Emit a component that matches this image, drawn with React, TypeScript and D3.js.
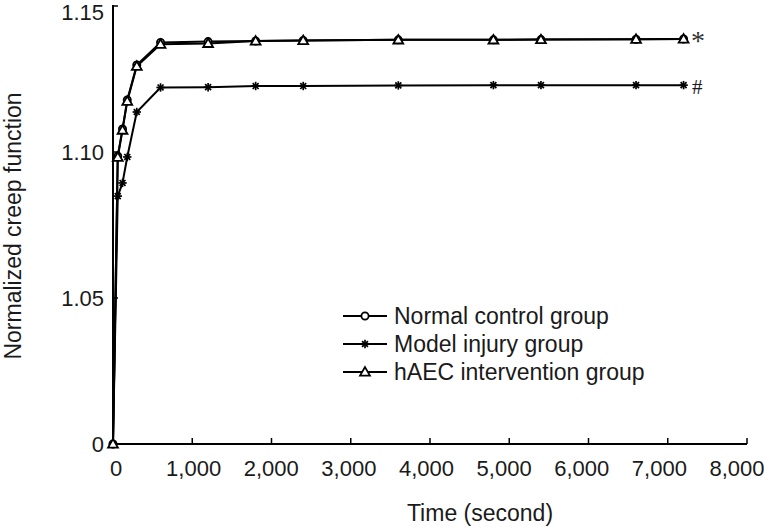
import React from "react";
import * as d3 from "d3";

const times = [0, 60, 120, 180, 300, 600, 1200, 1800, 2400, 3600, 4800, 5400, 6600, 7200];
const normalControl = [1.0, 1.0986, 1.1079, 1.1178, 1.1298, 1.1375, 1.1378, 1.138, 1.1382, 1.1384, 1.1384, 1.1385, 1.1386, 1.1387];
const modelInjury = [1.0, 1.0849, 1.0894, 1.0983, 1.1137, 1.1221, 1.1222, 1.1226, 1.1226, 1.1228, 1.1229, 1.1229, 1.1229, 1.1229];
const hAEC = [1.0, 1.0982, 1.1075, 1.1174, 1.1294, 1.1369, 1.1372, 1.138, 1.1382, 1.1384, 1.1384, 1.1385, 1.1386, 1.1387];

const seriesNames = ["Normal control group", "Model injury group", "hAEC intervention group"];
const seriesMarkers = ["circle", "star", "triangle"];
const seriesValues = [normalControl, modelInjury, hAEC];

const xTicks = [0, 1000, 2000, 3000, 4000, 5000, 6000, 7000, 8000];
const yTickValues = [1.0, 1.05, 1.1, 1.15];
const yTickLabels = ["0", "1.05", "1.10", "1.15"];
const endMarks = ["*", "#"];

const W = 764;
const H = 527;
const FONT = "'Liberation Sans', Arial, sans-serif";
const INK = "#1a1a1a";

const x = d3.scaleLinear().domain([0, 8000]).range([113, 747]);
const xLabel = d3.scaleLinear().domain([0, 8000]).range([116, 737]);
const y = d3.scaleLinear().domain([1.0, 1.15]).range([444, 6]);
const fmt = d3.format(",");

function Marker({ kind, cx, cy }: { kind: string; cx: number; cy: number }) {
  if (kind === "circle") {
    return <circle cx={cx} cy={cy} r={3.6} fill="#fff" stroke="#000" strokeWidth={1.8} />;
  }
  if (kind === "star") {
    const r = 4.2;
    const angles = [0, 45, 90, 135];
    return (
      <g transform={`translate(${cx},${cy})`}>
        {angles.map((a) => {
          const rad = (a * Math.PI) / 180;
          return (
            <line
              key={a}
              x1={-r * Math.cos(rad)}
              y1={-r * Math.sin(rad)}
              x2={r * Math.cos(rad)}
              y2={r * Math.sin(rad)}
              stroke="#000"
              strokeWidth={1.7}
            />
          );
        })}
      </g>
    );
  }
  const t = d3.symbol(d3.symbolTriangle, 42)();
  return <path d={t || ""} transform={`translate(${cx},${cy + 0.8})`} fill="#fff" stroke="#000" strokeWidth={1.8} />;
}

export default function App() {
  const line = d3
    .line<[number, number]>()
    .x((d) => x(d[0]))
    .y((d) => y(d[1]));

  const legendRows = [316, 344, 372];

  return (
    <svg width={W} height={H} style={{ position: "absolute", left: 0, top: 0, background: "#fff" }} fontFamily={FONT}>
      {/* axes */}
      <line x1={x(0)} x2={x(0)} y1={y(1.15) - 1} y2={y(1.0)} stroke="#000" strokeWidth={2} />
      <line x1={x(0)} x2={x(8000)} y1={y(1.0)} y2={y(1.0)} stroke="#000" strokeWidth={2} />
      {xTicks.map((t) => (
        <g key={"xt" + t}>
          {t > 0 && <line x1={x(t)} x2={x(t)} y1={y(1.0)} y2={y(1.0) - 6} stroke="#000" strokeWidth={1.5} />}
          <text x={xLabel(t)} y={476} textAnchor="middle" fontSize={22} fill={INK}>
            {fmt(t)}
          </text>
        </g>
      ))}
      {yTickValues.map((v, i) => (
        <g key={"yt" + i}>
          {i > 0 && <line x1={x(0)} x2={x(0) + 5} y1={y(v)} y2={y(v)} stroke="#000" strokeWidth={1.5} />}
          <text
            x={104}
            y={Math.max(y(v), 12)}
            textAnchor="end"
            dominantBaseline="central"
            fontSize={22}
            fill={INK}
          >
            {yTickLabels[i]}
          </text>
        </g>
      ))}
      <text x={480} y={521} textAnchor="middle" fontSize={23} fill={INK}>
        Time (second)
      </text>
      <text transform="translate(21,226) rotate(-90)" textAnchor="middle" fontSize={23} fill={INK}>
        Normalized creep function
      </text>

      {/* series */}
      {seriesValues.map((vals, si) => {
        const pts: [number, number][] = times.map((t, i) => [t, vals[i]]);
        return (
          <g key={"s" + si}>
            <path d={line(pts) || ""} fill="none" stroke="#000" strokeWidth={2} />
            {pts.map((p, i) => (
              <Marker key={i} kind={seriesMarkers[si]} cx={x(p[0])} cy={y(p[1])} />
            ))}
          </g>
        );
      })}

      {/* end annotations */}
      <text x={691} y={50} fontFamily="'Liberation Serif', 'Times New Roman', serif" fontSize={28} fontWeight={300} fill="#333">
        {endMarks[0]}
      </text>
      <text x={692} y={94} fontFamily="'Liberation Serif', 'Times New Roman', serif" fontSize={21} fill={INK}>
        {endMarks[1]}
      </text>

      {/* legend */}
      {seriesNames.map((name, i) => (
        <g key={"lg" + i}>
          <line x1={343} x2={387} y1={legendRows[i]} y2={legendRows[i]} stroke="#000" strokeWidth={2} />
          <Marker kind={seriesMarkers[i]} cx={365} cy={legendRows[i]} />
          <text x={394} y={legendRows[i]} dominantBaseline="central" fontSize={23} fill={INK}>
            {name}
          </text>
        </g>
      ))}
    </svg>
  );
}
